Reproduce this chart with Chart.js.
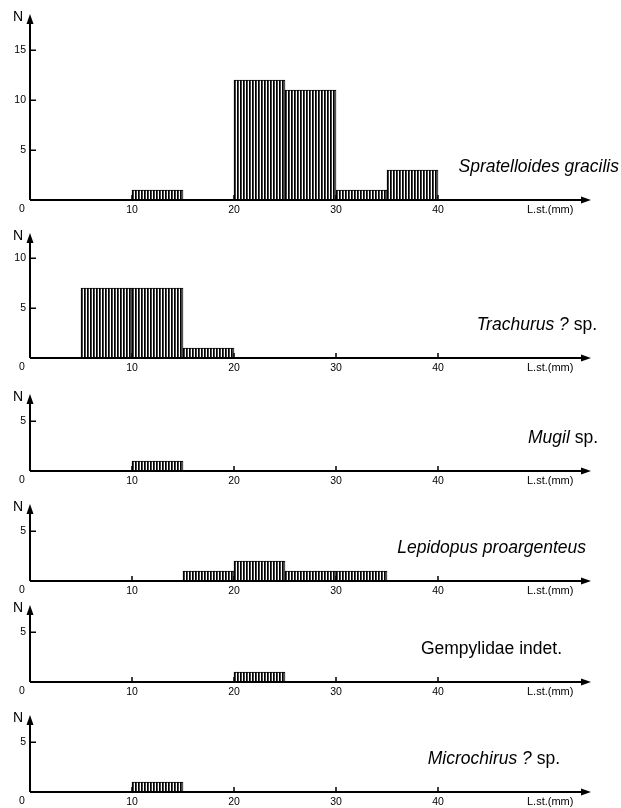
<!DOCTYPE html>
<html>
<head>
<meta charset="utf-8">
<script src="https://cdn.jsdelivr.net/npm/chart.js@4.4.1/dist/chart.umd.min.js"></script>
<style>
  body { margin: 0; background: #fff; width: 621px; height: 808px; position: relative; overflow: hidden; }
  canvas { position: absolute; left: 0; }
</style>
</head>
<body>
<script>
// 5 mm length classes, counts per species
const bins = ['0-5', '5-10', '10-15', '15-20', '20-25', '25-30', '30-35', '35-40', '40-45', '45-50', '50-55'];
const lengthTicks = [10, 20, 30, 40];
const spratelloides = [0, 0, 1, 0, 12, 11, 1, 3, 0, 0, 0];
const trachurus = [0, 7, 7, 1, 0, 0, 0, 0, 0, 0, 0];
const mugil = [0, 0, 1, 0, 0, 0, 0, 0, 0, 0, 0];
const lepidopus = [0, 0, 0, 1, 2, 1, 1, 0, 0, 0, 0];
const gempylidae = [0, 0, 0, 0, 1, 0, 0, 0, 0, 0, 0];
const microchirus = [0, 0, 1, 0, 0, 0, 0, 0, 0, 0, 0];

const FONT = '"Liberation Sans", Arial, Helvetica, sans-serif';

// layout of each panel: axisY = pixel row of x axis, yMax = top of y arrow
const panels = [
  { counts: spratelloides, name: [['Spratelloides gracilis', true]], axisY: 200, yMax: 18.6, nameRight: 619 },
  { counts: trachurus, name: [['Trachurus ?', true], [' sp.', false]], axisY: 358, yMax: 12.5, nameRight: 597 },
  { counts: mugil, name: [['Mugil', true], [' sp.', false]], axisY: 471, yMax: 7.7, nameRight: 598 },
  { counts: lepidopus, name: [['Lepidopus proargenteus', true]], axisY: 581, yMax: 7.7, nameRight: 586 },
  { counts: gempylidae, name: [['Gempylidae indet.', false]], axisY: 682, yMax: 7.7, nameRight: 562 },
  { counts: microchirus, name: [['Microchirus ?', true], [' sp.', false]], axisY: 792, yMax: 7.7, nameRight: 560 },
];

// vertical line hatch
function makeHatch() {
  const c = document.createElement('canvas');
  c.width = 3; c.height = 4;
  const g = c.getContext('2d');
  g.fillStyle = '#fff';
  g.fillRect(0, 0, 3, 4);
  g.fillStyle = '#000';
  g.fillRect(0, 0, 1, 4);
  g.fillStyle = '#444';
  g.fillRect(1, 0, 1, 4);
  return g.createPattern(c, 'repeat');
}
const hatch = makeHatch();

const axesPlugin = {
  id: 'axes',
  afterDatasetsDraw(chart, args, opts) {
    const ctx = chart.ctx;
    const xl = chart.scales.xl, y = chart.scales.y;
    const a = chart.chartArea;
    const x0 = xl.getPixelForValue(0), y0 = y.getPixelForValue(0);
    ctx.save();
    ctx.strokeStyle = '#000';
    ctx.fillStyle = '#000';
    ctx.lineWidth = 2;
    ctx.beginPath();
    ctx.moveTo(x0, y0); ctx.lineTo(a.right - 6, y0);
    ctx.moveTo(x0, y0); ctx.lineTo(x0, a.top + 6);
    ctx.stroke();
    // arrow heads
    ctx.beginPath();
    ctx.moveTo(a.right, y0); ctx.lineTo(a.right - 10, y0 - 3.5); ctx.lineTo(a.right - 10, y0 + 3.5);
    ctx.closePath(); ctx.fill();
    ctx.beginPath();
    ctx.moveTo(x0, a.top); ctx.lineTo(x0 - 3.5, a.top + 10); ctx.lineTo(x0 + 3.5, a.top + 10);
    ctx.closePath(); ctx.fill();
    // inward tick marks
    ctx.lineWidth = 1.5;
    ctx.beginPath();
    y.ticks.filter(t => t.value > 0 && t.value % 5 === 0).forEach(t => {
      const py = Math.round(y.getPixelForValue(t.value)) + 0.25;
      ctx.moveTo(x0, py); ctx.lineTo(x0 + 6, py);
    });
    lengthTicks.forEach(v => {
      const px = Math.round(xl.getPixelForValue(v));
      ctx.moveTo(px, y0); ctx.lineTo(px, y0 - 5);
    });
    ctx.stroke();
    // texts
    ctx.textBaseline = 'middle';
    ctx.font = '10.5px ' + FONT;
    ctx.textAlign = 'center';
    ctx.fillText('0', x0 - 8, y0 + 9);
    ctx.font = '11px ' + FONT;
    ctx.fillText('L.st.(mm)', xl.getPixelForValue(51), y0 + 10);
    ctx.font = '14px ' + FONT;
    ctx.textAlign = 'right';
    ctx.fillText('N', x0 - 7, a.top + 3);
    // species name, right aligned, mixed italic
    ctx.textAlign = 'left';
    const parts = opts.name;
    const fonts = parts.map(p => (p[1] ? 'italic ' : '') + '17.5px ' + FONT);
    let w = 0;
    parts.forEach((p, i) => { ctx.font = fonts[i]; w += ctx.measureText(p[0]).width; });
    let x = opts.nameRight - w;
    parts.forEach((p, i) => {
      ctx.font = fonts[i];
      ctx.fillText(p[0], x, y0 - 33);
      x += ctx.measureText(p[0]).width;
    });
    ctx.restore();
  }
};

panels.forEach(p => {
  const padTop = 12, xAxisH = 22;
  const plotH = Math.round(p.yMax * 10);
  const cv = document.createElement('canvas');
  cv.width = 621;
  cv.height = padTop + plotH + xAxisH;
  cv.style.top = (p.axisY - plotH - padTop) + 'px';
  document.body.appendChild(cv);

  new Chart(cv, {
    type: 'bar',
    data: {
      labels: bins,
      datasets: [{
        data: p.counts.map(v => v || null),
        backgroundColor: hatch,
        borderColor: '#000',
        borderWidth: 1,
        borderSkipped: 'bottom',
        barPercentage: 1,
        categoryPercentage: 1,
        xAxisID: 'x',
        yAxisID: 'y'
      }]
    },
    options: {
      responsive: false,
      animation: false,
      events: [],
      layout: { padding: { left: 0, right: 30, top: padTop, bottom: 0 } },
      plugins: {
        legend: { display: false },
        tooltip: { enabled: false },
        axes: { name: p.name, nameRight: p.nameRight }
      },
      scales: {
        x: { type: 'category', display: false, offset: true },
        xl: {
          type: 'linear', position: 'bottom', min: 0, max: 55, offset: false,
          grid: { display: false, drawTicks: false, offset: false }, border: { display: false },
          ticks: {
            stepSize: 10, autoSkip: false, maxRotation: 0, padding: 4, color: '#000',
            font: { size: 10.5, family: FONT },
            callback: v => lengthTicks.includes(v) ? String(v) : null
          },
          afterFit: s => { s.height = xAxisH; }
        },
        y: {
          type: 'linear', min: 0, max: p.yMax,
          grid: { display: false, drawTicks: false }, border: { display: false },
          ticks: {
            stepSize: 5, padding: 4, color: '#000',
            font: { size: 10.5, family: FONT },
            callback: v => (v > 0 && v % 5 === 0) ? String(v) : null
          },
          afterFit: s => { s.width = 30; }
        }
      }
    },
    plugins: [axesPlugin]
  });
});
</script>
</body>
</html>
